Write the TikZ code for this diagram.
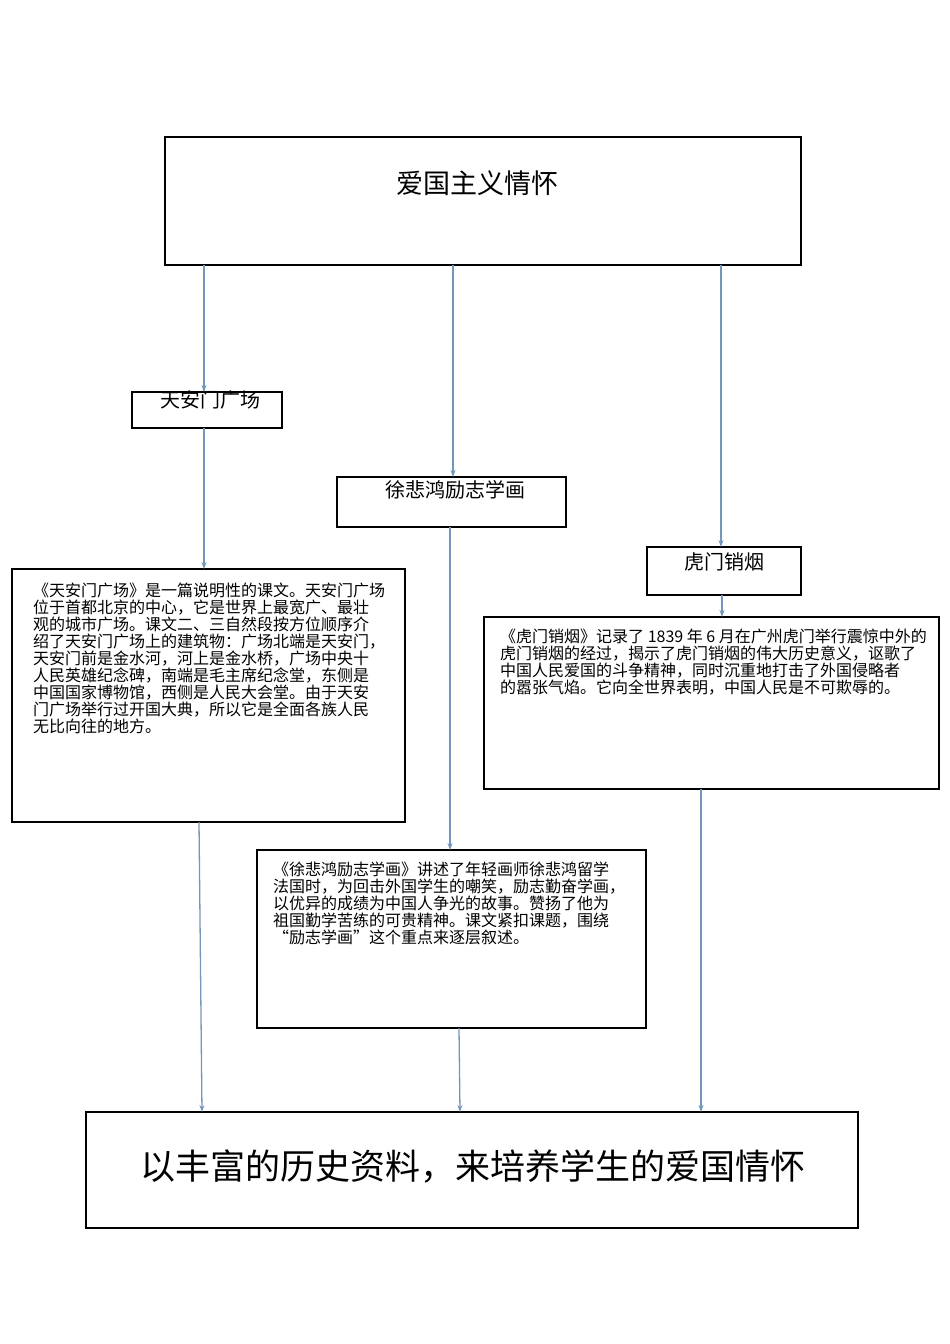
\documentclass[tikz,border=0pt]{standalone}
\usepackage{fontspec}
\setmainfont{Liberation Serif}
\newfontfamily\cjk{Noto Sans CJK SC}
\usetikzlibrary{arrows.meta}
\begin{document}
\begin{tikzpicture}[x=1pt,y=-1pt,
  box/.style={draw,line width=1.2pt},
  conn/.style={color={rgb,255:red,115;green,151;blue,186},line width=1.3pt,-{Stealth[length=7pt,width=5pt]}},
  para/.style={anchor=north west,inner sep=0,align=left,font=\cjk\fontsize{16}{17}\selectfont}]
\useasboundingbox (0,0) rectangle (950,1344);
\draw[box] (165,137) rectangle (801,265);
\node[font=\cjk\fontsize{27}{30}\selectfont] (t) at (477,183) {爱国主义情怀};
\coordinate (top1) at (204,265); \coordinate (top2) at (453,265); \coordinate (top3) at (721,265);
\draw[box] (132,392) rectangle (282,428);
\node[font=\cjk\fontsize{20}{22}\selectfont] (a) at (210,400) {天安门广场};
\draw[box] (337,477) rectangle (566,527);
\node[font=\cjk\fontsize{20}{22}\selectfont] (b) at (455,490) {徐悲鸿励志学画};
\draw[box] (647,547) rectangle (801,595);
\node[font=\cjk\fontsize{20}{22}\selectfont] (c) at (724,562) {虎门销烟};
\draw[box] (12,569) rectangle (405,822);
\node[para] (pa) at (33,583) {《天安门广场》是一篇说明性的课文。天安门广场\\位于首都北京的中心，它是世界上最宽广、最壮\\观的城市广场。课文二、三自然段按方位顺序介\\绍了天安门广场上的建筑物：广场北端是天安门，\\天安门前是金水河，河上是金水桥，广场中央十\\人民英雄纪念碑，南端是毛主席纪念堂，东侧是\\中国国家博物馆，西侧是人民大会堂。由于天安\\门广场举行过开国大典，所以它是全面各族人民\\无比向往的地方。};
\draw[box] (484,617) rectangle (939,789);
\node[para] (pc) at (500,629) {《虎门销烟》记录了 1839 年 6 月在广州虎门举行震惊中外的\\虎门销烟的经过，揭示了虎门销烟的伟大历史意义，讴歌了\\中国人民爱国的斗争精神，同时沉重地打击了外国侵略者\\的嚣张气焰。它向全世界表明，中国人民是不可欺辱的。};
\draw[box] (257,850) rectangle (646,1028);
\node[para] (pb) at (273,862) {《徐悲鸿励志学画》讲述了年轻画师徐悲鸿留学\\法国时，为回击外国学生的嘲笑，励志勤奋学画，\\以优异的成绩为中国人争光的故事。赞扬了他为\\祖国勤学苦练的可贵精神。课文紧扣课题，围绕\\“励志学画”这个重点来逐层叙述。};
\draw[box] (86,1112) rectangle (858,1228);
\node[font=\cjk\fontsize{35}{38}\selectfont] (z) at (473,1166) {以丰富的历史资料，来培养学生的爱国情怀};
\coordinate (a1) at (204,392); \coordinate (a2) at (204,428); \coordinate (a3) at (204,569);
\coordinate (b1) at (453,477); \coordinate (b2) at (450,527); \coordinate (b3) at (450,850);
\coordinate (c1) at (721,547); \coordinate (c2) at (722,595); \coordinate (c3) at (722,617);
\coordinate (d1) at (199,822); \coordinate (d2) at (202,1112);
\coordinate (e1) at (459,1028); \coordinate (e2) at (460,1112);
\coordinate (f1) at (701,789); \coordinate (f2) at (701,1112);
\draw[conn] (top1) -- (a1);
\draw[conn] (top2) -- (b1);
\draw[conn] (top3) -- (c1);
\draw[conn] (a2) -- (a3);
\draw[conn] (b2) -- (b3);
\draw[conn] (c2) -- (c3);
\draw[conn] (d1) -- (d2);
\draw[conn] (e1) -- (e2);
\draw[conn] (f1) -- (f2);
\end{tikzpicture}
\end{document}
